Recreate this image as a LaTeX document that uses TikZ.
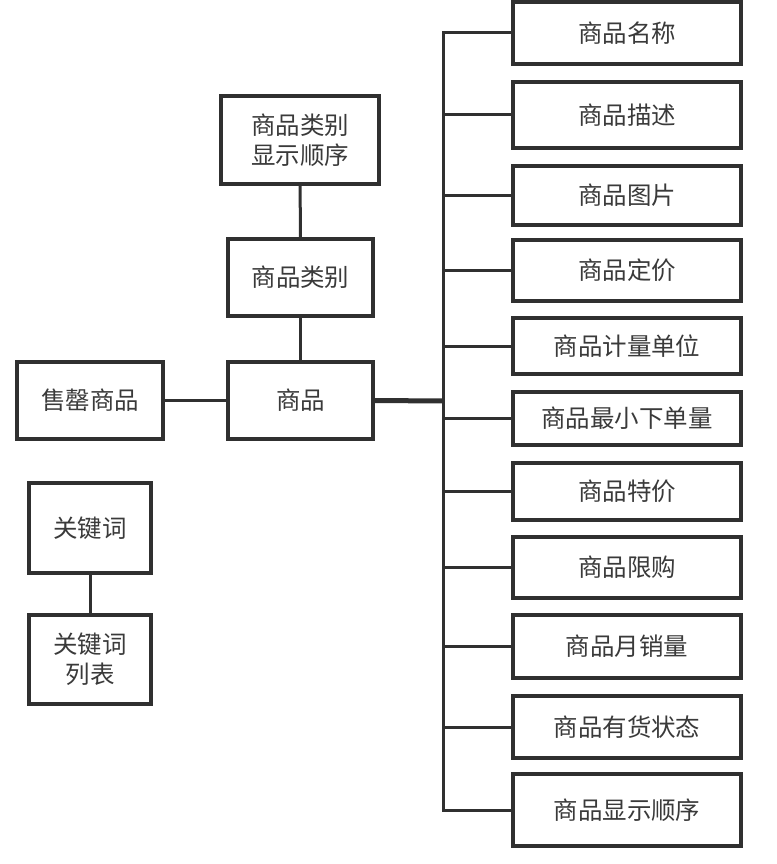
\documentclass[tikz,border=0pt]{standalone}
\usepackage{fontspec}
\usepackage{xcolor}
\usepackage{tikz}
\usetikzlibrary{positioning}
\newfontfamily\cjk[Scale=1.02]{Noto Sans CJK SC}
\definecolor{linegray}{HTML}{303030}
\definecolor{textgray}{HTML}{3a3a3a}

\begin{document}
\begin{tikzpicture}[x=1pt, y=-1pt,
    box/.style={draw=linegray, line width=3.2pt, fill=white, inner sep=0pt,
        align=center, text=textgray, font=\cjk\fontsize{24}{30}\selectfont},
    link/.style={draw=linegray, line width=3pt}]
        \useasboundingbox (0,0) rectangle (776,864);

        \node[box, minimum width=158pt, minimum height=88pt] (order) at (300,140) {商品类别\\显示顺序};
        \node[box, minimum width=145pt, minimum height=77pt] (cat)   at (300.5,277.5) {商品类别};
        \node[box, minimum width=145pt, minimum height=77pt] (goods) at (300.5,400.5) {商品};
        \node[box, minimum width=146pt, minimum height=77pt] (sold)  at (90,400.5) {售罄商品};
        \node[box, minimum width=122pt, minimum height=90pt] (kw)    at (90,528) {关键词};
        \node[box, minimum width=122pt, minimum height=89pt] (kwl)   at (90,659.5) {关键词\\列表};

        % attribute column
        \foreach \i/\y/\h/\t in {1/33/62/商品名称, 2/115/66/商品描述, 3/195.5/59/商品图片,
                4/270.5/61/商品定价, 5/346/56/商品计量单位, 6/418.5/53/商品最小下单量,
                7/491.5/57/商品特价, 8/567.5/61/商品限购, 9/646.5/63/商品月销量,
                10/727/62/商品有货状态, 11/810/72/商品显示顺序}
            \node[box, minimum width=228pt, minimum height=\h pt] (a\i) at (627,\y) {\t};

        \coordinate (jn) at (443,401);

        \path[link]
        (order) edge (cat)
        (cat)   edge (goods)
        (sold)  edge (goods)
        (kw)    edge (kwl);
        \draw[link, line width=5pt] (goods.east) -- (jn);
        \draw[link, line cap=rect] (jn |- a1.west) -- (jn |- a11.west);
        \foreach \i in {1,...,11}
            \draw[link] (jn |- a\i.west) -- (a\i.west);

    \end{tikzpicture}
\end{document}
